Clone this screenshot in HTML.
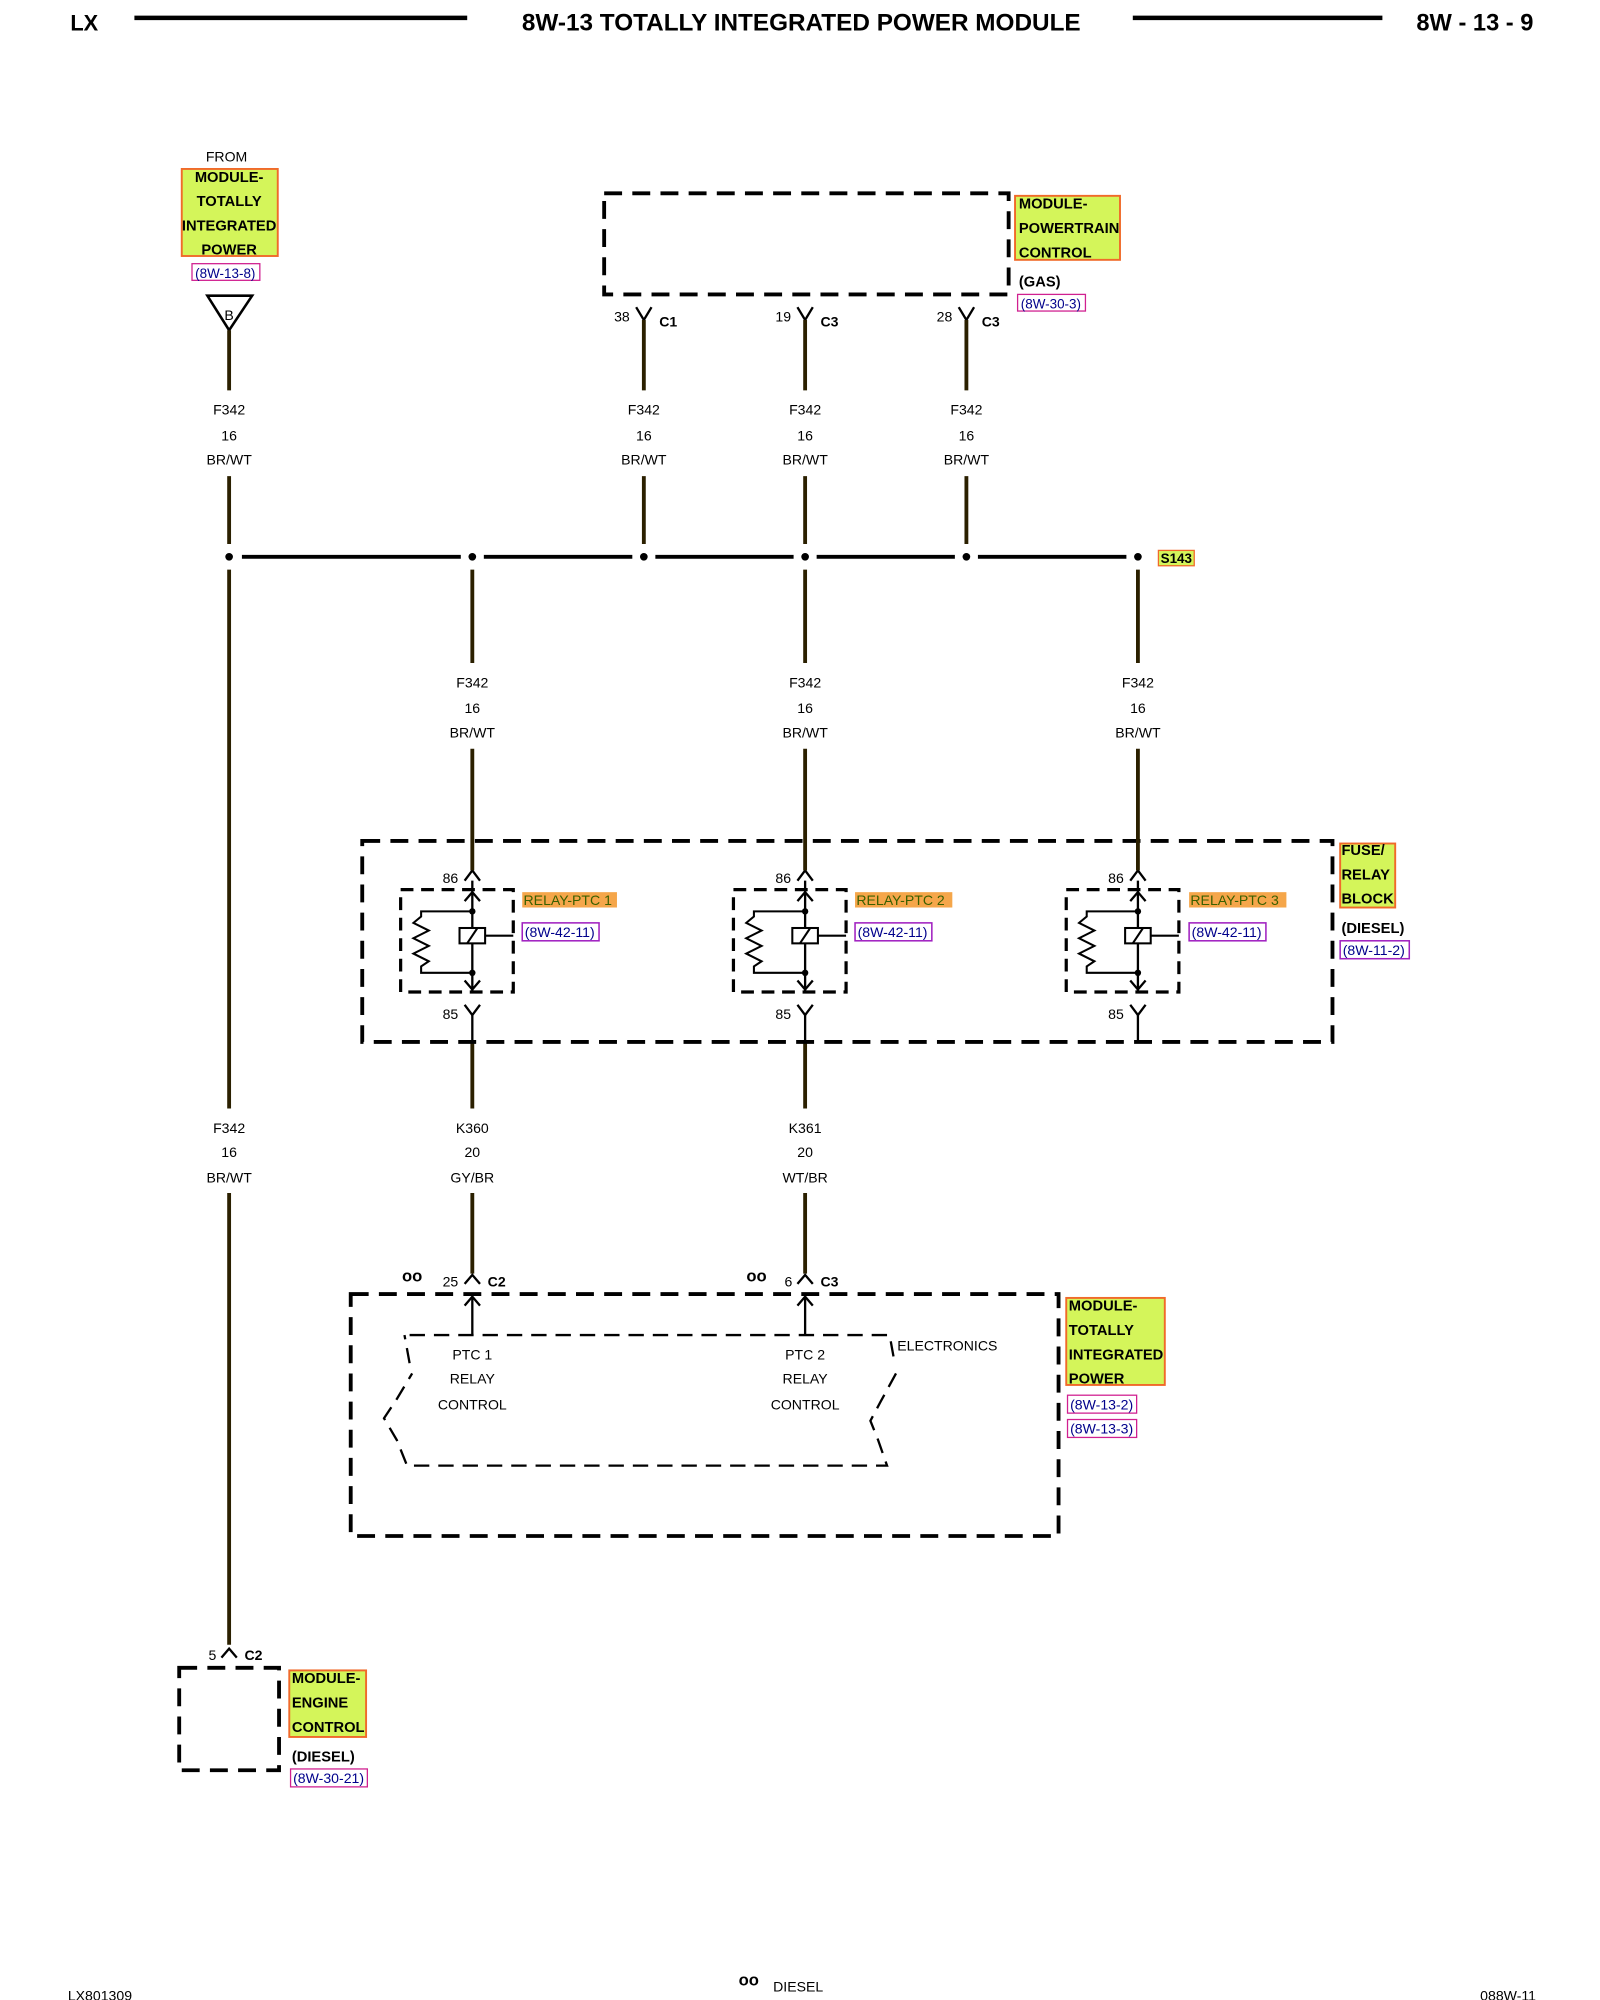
<!DOCTYPE html>
<html><head><meta charset="utf-8">
<style>
html,body{margin:0;padding:0;background:#fff;}
svg{display:block;}
text{font-family:"Liberation Sans",Arial,sans-serif;fill:#000;}
</style></head>
<body>
<svg width="1600" height="2000" viewBox="0 0 1250 1562.5" preserveAspectRatio="none" xmlns="http://www.w3.org/2000/svg">
<defs>
<g id="relay">
  <rect x="-56" y="695" width="88" height="80" fill="none" stroke="#000" stroke-width="2.5" stroke-dasharray="10,6"/>
  <line x1="0" y1="688" x2="0" y2="775" stroke="#000" stroke-width="1.8"/>
  <polyline points="-6,704 0,697 6,704" fill="none" stroke="#000" stroke-width="1.8"/>
  <polyline points="-6,766 0,773 6,766" fill="none" stroke="#000" stroke-width="1.8"/>
  <circle cx="0" cy="712" r="2.5"/><circle cx="0" cy="760" r="2.5"/>
  <polyline points="0,712 -40,712 -40,716 -46,721 -34,727 -46,733 -34,739 -46,745 -34,751 -40,755 -40,760 0,760" fill="none" stroke="#000" stroke-width="1.6"/>
  <rect x="-10" y="725" width="20" height="12" fill="#fff" stroke="#000" stroke-width="1.6"/>
  <line x1="-4" y1="737" x2="4" y2="725" stroke="#000" stroke-width="1.6"/>
  <line x1="10" y1="731" x2="32" y2="731" stroke="#000" stroke-width="1.6"/>
  <polyline points="-6,688 0,680 6,688" fill="none" stroke="#000" stroke-width="1.8"/>
  <text x="-11" y="690" font-size="11" text-anchor="end">86</text>
  <polyline points="-6,785 0,793 6,785" fill="none" stroke="#000" stroke-width="1.8"/>
  <text x="-11" y="796" font-size="11" text-anchor="end">85</text>
  <line x1="0" y1="793" x2="0" y2="814" stroke="#000" stroke-width="1.8"/>
  <line x1="0" y1="585" x2="0" y2="680" stroke="#2b2000" stroke-width="3"/>
</g>
</defs>

<!-- header -->
<text x="55" y="24" font-size="17" font-weight="bold">LX</text>
<line x1="105" y1="14" x2="365" y2="14" stroke="#000" stroke-width="3.5"/>
<text x="626" y="24" font-size="19" font-weight="bold" text-anchor="middle">8W-13 TOTALLY INTEGRATED POWER MODULE</text>
<line x1="885" y1="14" x2="1080" y2="14" stroke="#000" stroke-width="3.5"/>
<text x="1198" y="24" font-size="18.5" font-weight="bold" text-anchor="end">8W - 13 - 9</text>

<g font-size="11" text-anchor="middle">
<!-- left source -->
<text x="177" y="126">FROM</text>
<rect x="142" y="132" width="75" height="68" fill="#d4f55a" stroke="#f06a2a" stroke-width="1.5"/>
<g font-weight="bold" font-size="11.5">
<text x="179" y="142">MODULE-</text><text x="179" y="161">TOTALLY</text><text x="179" y="180">INTEGRATED</text><text x="179" y="199">POWER</text>
</g>
<rect x="150" y="206" width="53" height="13" fill="none" stroke="#d02090" stroke-width="1"/>
<text x="176" y="217" style="fill:#00008b" font-size="10.5">(8W-13-8)</text>
<polygon points="162,231 197,231 179,258" fill="#fff" stroke="#000" stroke-width="2"/>
<text x="179" y="250">B</text>

<!-- PCM -->
<rect x="472" y="151" width="316" height="79" fill="none" stroke="#000" stroke-width="3" stroke-dasharray="14,8"/>
<rect x="793" y="153" width="82" height="50" fill="#d4f55a" stroke="#f06a2a" stroke-width="1.5"/>
<g font-weight="bold" font-size="11.5" text-anchor="start">
<text x="796" y="163">MODULE-</text><text x="796" y="182">POWERTRAIN</text><text x="796" y="201">CONTROL</text>
<text x="796" y="224">(GAS)</text>
</g>
<rect x="795" y="230" width="53" height="13" fill="none" stroke="#d02090" stroke-width="1"/>
<text x="821" y="241" style="fill:#00008b" font-size="10.5">(8W-30-3)</text>

<!-- top connectors -->
<g stroke="#000" stroke-width="1.8" fill="none">
<polyline points="497,240 503,250 509,240"/><polyline points="623,240 629,250 635,240"/><polyline points="749,240 755,250 761,240"/>
</g>
<text x="492" y="251" text-anchor="end">38</text><text x="515" y="255" font-weight="bold" text-anchor="start">C1</text>
<text x="618" y="251" text-anchor="end">19</text><text x="641" y="255" font-weight="bold" text-anchor="start">C3</text>
<text x="744" y="251" text-anchor="end">28</text><text x="767" y="255" font-weight="bold" text-anchor="start">C3</text>

<!-- wires -->
<g stroke="#2b2000" stroke-width="3">
<line x1="179" y1="258" x2="179" y2="305"/><line x1="179" y1="372" x2="179" y2="425"/>
<line x1="503" y1="250" x2="503" y2="305"/><line x1="503" y1="372" x2="503" y2="425"/>
<line x1="629" y1="250" x2="629" y2="305"/><line x1="629" y1="372" x2="629" y2="425"/>
<line x1="755" y1="250" x2="755" y2="305"/><line x1="755" y1="372" x2="755" y2="425"/>
<line x1="179" y1="445" x2="179" y2="866"/><line x1="179" y1="932" x2="179" y2="1285"/>
<line x1="369" y1="445" x2="369" y2="518"/><line x1="629" y1="445" x2="629" y2="518"/><line x1="889" y1="445" x2="889" y2="518"/>
<line x1="369" y1="814" x2="369" y2="866"/><line x1="629" y1="814" x2="629" y2="866"/>
<line x1="369" y1="932" x2="369" y2="995"/><line x1="629" y1="932" x2="629" y2="995"/>
</g>
<g>
<text x="179" y="324">F342</text><text x="179" y="344">16</text><text x="179" y="363">BR/WT</text>
<text x="503" y="324">F342</text><text x="503" y="344">16</text><text x="503" y="363">BR/WT</text>
<text x="629" y="324">F342</text><text x="629" y="344">16</text><text x="629" y="363">BR/WT</text>
<text x="755" y="324">F342</text><text x="755" y="344">16</text><text x="755" y="363">BR/WT</text>
<text x="369" y="537">F342</text><text x="369" y="557">16</text><text x="369" y="576">BR/WT</text>
<text x="629" y="537">F342</text><text x="629" y="557">16</text><text x="629" y="576">BR/WT</text>
<text x="889" y="537">F342</text><text x="889" y="557">16</text><text x="889" y="576">BR/WT</text>
<text x="179" y="885">F342</text><text x="179" y="904">16</text><text x="179" y="924">BR/WT</text>
<text x="369" y="885">K360</text><text x="369" y="904">20</text><text x="369" y="924">GY/BR</text>
<text x="629" y="885">K361</text><text x="629" y="904">20</text><text x="629" y="924">WT/BR</text>
</g>

<!-- splice bus -->
<g stroke="#000" stroke-width="3">
<line x1="189" y1="435" x2="360" y2="435"/><line x1="378" y1="435" x2="494" y2="435"/>
<line x1="512" y1="435" x2="620" y2="435"/><line x1="638" y1="435" x2="746" y2="435"/>
<line x1="764" y1="435" x2="880" y2="435"/>
</g>
<g><circle cx="179" cy="435" r="3"/><circle cx="369" cy="435" r="3"/><circle cx="503" cy="435" r="3"/><circle cx="629" cy="435" r="3"/><circle cx="755" cy="435" r="3"/><circle cx="889" cy="435" r="3"/></g>
<rect x="905" y="430" width="28" height="12" fill="#d4f55a" stroke="#f06a2a" stroke-width="1"/>
<text x="919" y="440" font-weight="bold" font-size="10.5">S143</text>

<!-- fuse relay block -->
<rect x="283" y="657" width="758" height="157" fill="none" stroke="#000" stroke-width="3" stroke-dasharray="14,8"/>
<use href="#relay" transform="translate(369,0)"/>
<use href="#relay" transform="translate(629,0)"/>
<use href="#relay" transform="translate(889,0)"/>
<g text-anchor="start" font-size="11">
<rect x="408" y="697" width="74" height="12" fill="#f5a64a"/><text x="409" y="707" style="fill:#3a6000">RELAY-PTC 1</text>
<rect x="668" y="697" width="76" height="12" fill="#f5a64a"/><text x="669" y="707" style="fill:#3a6000">RELAY-PTC 2</text>
<rect x="929" y="697" width="76" height="12" fill="#f5a64a"/><text x="930" y="707" style="fill:#3a6000">RELAY-PTC 3</text>
<rect x="408" y="721" width="60" height="14" fill="none" stroke="#a020c0" stroke-width="1.2"/><text x="410" y="732" style="fill:#00008b">(8W-42-11)</text>
<rect x="668" y="721" width="60" height="14" fill="none" stroke="#a020c0" stroke-width="1.2"/><text x="670" y="732" style="fill:#00008b">(8W-42-11)</text>
<rect x="929" y="721" width="60" height="14" fill="none" stroke="#a020c0" stroke-width="1.2"/><text x="931" y="732" style="fill:#00008b">(8W-42-11)</text>
<rect x="1047" y="659" width="43" height="50" fill="#d4f55a" stroke="#f06a2a" stroke-width="1.5"/>
<g font-weight="bold" font-size="11.5"><text x="1048" y="668">FUSE/</text><text x="1048" y="687">RELAY</text><text x="1048" y="706">BLOCK</text><text x="1048" y="729">(DIESEL)</text></g>
<rect x="1047" y="735" width="54" height="14" fill="none" stroke="#a020c0" stroke-width="1.2"/><text x="1049" y="746" style="fill:#00008b">(8W-11-2)</text>
</g>

<!-- TIPM bottom -->
<g stroke="#000" stroke-width="1.8" fill="none">
<polyline points="363,1003 369,996 375,1003"/><polyline points="623,1003 629,996 635,1003"/>
<line x1="369" y1="1013" x2="369" y2="1043"/><polyline points="363,1020 369,1013 375,1020"/>
<line x1="629" y1="1013" x2="629" y2="1043"/><polyline points="623,1020 629,1013 635,1020"/>
<polyline points="173,1295 179,1288 185,1295"/>
</g>
<text x="358" y="1005" text-anchor="end">25</text><text x="381" y="1005" font-weight="bold" text-anchor="start">C2</text>
<text x="619" y="1005" text-anchor="end">6</text><text x="641" y="1005" font-weight="bold" text-anchor="start">C3</text>
<text x="322" y="1001" font-weight="bold" font-size="13">oo</text>
<text x="591" y="1001" font-weight="bold" font-size="13">oo</text>
<rect x="274" y="1011" width="553" height="189" fill="none" stroke="#000" stroke-width="3" stroke-dasharray="14,8"/>
<path d="M320,1043 L695,1043 L699,1065 M700,1073 L688,1095 L680,1110 L686,1125 L693,1145 L318,1145 L310,1125 L300,1108 L310,1093 L322,1073 M320,1065 L316,1043" fill="none" stroke="#000" stroke-width="1.8" stroke-dasharray="12,7"/>
<text x="369" y="1062">PTC 1</text><text x="369" y="1081">RELAY</text><text x="369" y="1101">CONTROL</text>
<text x="629" y="1062">PTC 2</text><text x="629" y="1081">RELAY</text><text x="629" y="1101">CONTROL</text>
<text x="701" y="1055" text-anchor="start">ELECTRONICS</text>
<g text-anchor="start">
<rect x="833" y="1014" width="77" height="68" fill="#d4f55a" stroke="#f06a2a" stroke-width="1.5"/>
<g font-weight="bold" font-size="11.5"><text x="835" y="1024">MODULE-</text><text x="835" y="1043">TOTALLY</text><text x="835" y="1062">INTEGRATED</text><text x="835" y="1081">POWER</text></g>
<rect x="834" y="1090" width="54" height="14" fill="none" stroke="#d02090" stroke-width="1"/><text x="836" y="1101" style="fill:#00008b">(8W-13-2)</text>
<rect x="834" y="1109" width="54" height="14" fill="none" stroke="#d02090" stroke-width="1"/><text x="836" y="1120" style="fill:#00008b">(8W-13-3)</text>
</g>

<!-- ECM -->
<text x="169" y="1297" text-anchor="end">5</text><text x="191" y="1297" font-weight="bold" text-anchor="start">C2</text>
<rect x="140" y="1303" width="78" height="80" fill="none" stroke="#000" stroke-width="3" stroke-dasharray="14,8"/>
<g text-anchor="start">
<rect x="226" y="1305" width="60" height="52" fill="#d4f55a" stroke="#f06a2a" stroke-width="1.5"/>
<g font-weight="bold" font-size="11.5"><text x="228" y="1315">MODULE-</text><text x="228" y="1334">ENGINE</text><text x="228" y="1353">CONTROL</text><text x="228" y="1376">(DIESEL)</text></g>
<rect x="227" y="1382" width="60" height="14" fill="none" stroke="#d02090" stroke-width="1"/><text x="229" y="1393" style="fill:#00008b">(8W-30-21)</text>
</g>

<!-- footer -->
<text x="53" y="1563" text-anchor="start">LX801309</text>
<text x="585" y="1551" font-weight="bold" font-size="13">oo</text>
<text x="604" y="1556" text-anchor="start">DIESEL</text>
<text x="1200" y="1563" text-anchor="end">088W-11</text>
</g>
</svg>
</body></html>
